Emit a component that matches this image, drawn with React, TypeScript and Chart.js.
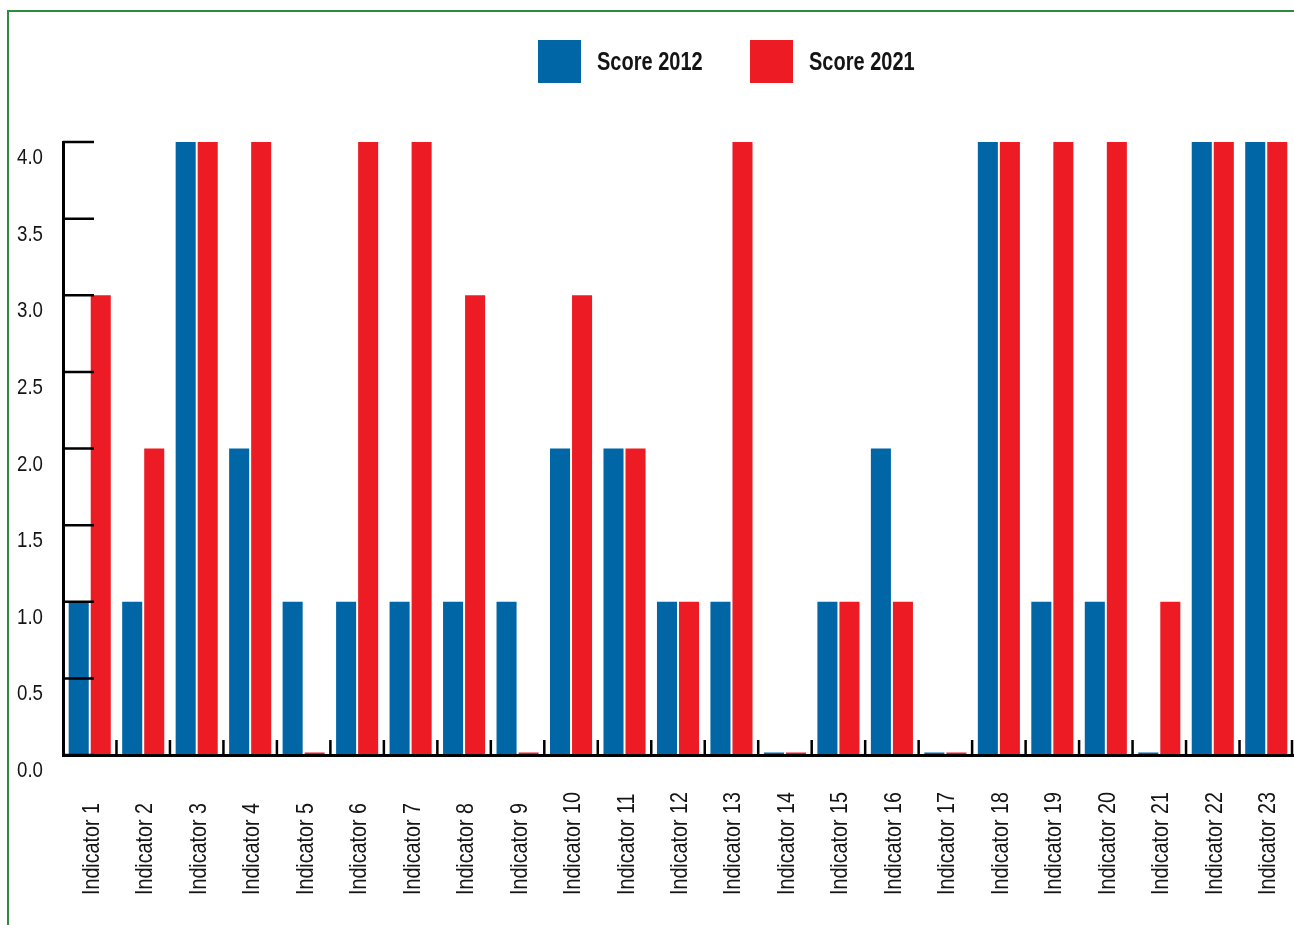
import React, { useEffect, useRef } from "react";
import { Chart, registerables } from "chart.js";

Chart.register(...registerables);

const categories = [
  "Indicator 1", "Indicator 2", "Indicator 3", "Indicator 4", "Indicator 5",
  "Indicator 6", "Indicator 7", "Indicator 8", "Indicator 9", "Indicator 10",
  "Indicator 11", "Indicator 12", "Indicator 13", "Indicator 14", "Indicator 15",
  "Indicator 16", "Indicator 17", "Indicator 18", "Indicator 19", "Indicator 20",
  "Indicator 21", "Indicator 22", "Indicator 23",
];
const score2012 = [1, 1, 4, 2, 1, 1, 1, 1, 1, 2, 2, 1, 1, 0, 1, 2, 0, 4, 1, 1, 0, 4, 4];
const score2021 = [3, 2, 4, 4, 0, 4, 4, 3, 0, 3, 2, 1, 4, 0, 1, 1, 0, 4, 4, 4, 1, 4, 4];
const seriesNames = ["Score 2012", "Score 2021"];
const seriesColors = ["#0066A6", "#ED1C24"];
const yMin = 0;
const yMax = 4;
const yStep = 0.5;

const FONT = "'Liberation Sans', Arial, sans-serif";
const TEXT_COLOR = "#141414";

const axisPlugin = {
  id: "inwardAxis",
  afterDatasetsDraw(chart: any) {
    const { ctx, chartArea, scales } = chart;
    const y = scales.y;
    const x = scales.x;
    ctx.save();
    ctx.strokeStyle = "#000";
    ctx.lineWidth = 2.5;
    ctx.beginPath();
    y.ticks.forEach((t: any) => {
      const py = y.getPixelForValue(t.value);
      ctx.moveTo(chartArea.left, py);
      ctx.lineTo(chartArea.left + 31, py);
    });
    const n = categories.length;
    for (let i = 1; i <= n; i++) {
      const px =
        i < n
          ? (x.getPixelForValue(i - 1) + x.getPixelForValue(i)) / 2
          : chartArea.right - 1;
      ctx.moveTo(px, chartArea.bottom);
      ctx.lineTo(px, chartArea.bottom - 15);
    }
    ctx.stroke();
    ctx.restore();
  },
  afterDraw(chart: any) {
    const { ctx, chartArea, scales } = chart;
    const x = scales.x;
    const y = scales.y;
    ctx.save();
    ctx.fillStyle = TEXT_COLOR;
    // category labels (rotated, start-aligned at the bottom)
    ctx.font = `24px ${FONT}`;
    ctx.textAlign = "left";
    ctx.textBaseline = "alphabetic";
    categories.forEach((c, i) => {
      const px = x.getPixelForValue(i);
      ctx.save();
      ctx.translate(px + 9, chartArea.bottom + 140);
      ctx.rotate(-Math.PI / 2);
      ctx.scale(0.82, 1);
      ctx.fillText(c, 0, 0);
      ctx.restore();
    });
    // value labels (sit just below each tick)
    ctx.font = `22px ${FONT}`;
    ctx.textAlign = "right";
    y.ticks.forEach((t: any) => {
      const py = y.getPixelForValue(t.value);
      ctx.save();
      ctx.translate(chartArea.left - 20, py + 22);
      ctx.scale(0.85, 1);
      ctx.fillText(Number(t.value).toFixed(1), 0, 0);
      ctx.restore();
    });
    ctx.restore();
  },
};

export default function App() {
  const ref = useRef<HTMLCanvasElement | null>(null);

  useEffect(() => {
    if (!ref.current) return;
    const chart = new Chart(ref.current, {
      type: "bar",
      data: {
        labels: categories,
        datasets: [
          {
            label: seriesNames[0],
            data: score2012,
            backgroundColor: seriesColors[0],
            categoryPercentage: 0.824,
            barPercentage: 0.91,
            minBarLength: 2.5,
          },
          {
            label: seriesNames[1],
            data: score2021,
            backgroundColor: seriesColors[1],
            categoryPercentage: 0.824,
            barPercentage: 0.91,
            minBarLength: 2.5,
          },
        ],
      },
      options: {
        responsive: false,
        animation: false,
        devicePixelRatio: 1,
        layout: { padding: { top: 142, right: 1, left: 0, bottom: 0 } },
        plugins: {
          legend: { display: false },
          tooltip: { enabled: false },
        },
        scales: {
          x: {
            grid: { display: false, drawTicks: false },
            border: { display: true, color: "#000", width: 3, z: 1 },
            ticks: { display: false },
            afterFit(scale: any) {
              scale.height = 170;
            },
          },
          y: {
            min: yMin,
            max: yMax,
            grid: { display: false, drawTicks: false },
            border: { display: true, color: "#000", width: 3, z: 1 },
            ticks: { stepSize: yStep, display: false },
            afterFit(scale: any) {
              scale.width = 63;
            },
          },
        },
      },
      plugins: [axisPlugin],
    });
    return () => chart.destroy();
  }, []);

  const legendItem = (i: number, left: number) => (
    <div
      key={i}
      style={{
        position: "absolute",
        left,
        top: 40,
        height: 43,
        display: "flex",
        alignItems: "center",
      }}
    >
      <div style={{ width: 43, height: 43, background: seriesColors[i] }} />
      <span
        style={{
          marginLeft: 16,
          font: `bold 25px ${FONT}`,
          lineHeight: "43px",
          color: TEXT_COLOR,
          whiteSpace: "nowrap",
          display: "inline-block",
          transform: "scaleX(0.8)",
          transformOrigin: "left center",
        }}
      >
        {seriesNames[i]}
      </span>
    </div>
  );

  return (
    <div
      style={{
        position: "absolute",
        left: 0,
        top: 0,
        width: 1294,
        height: 925,
        overflow: "hidden",
        background: "#fff",
      }}
    >
      <div
        style={{
          position: "absolute",
          left: 7,
          top: 10,
          width: 1400,
          height: 1000,
          borderLeft: "2px solid #2F8A3C",
          borderTop: "2px solid #2F8A3C",
        }}
      />
      <canvas
        ref={ref}
        width={1294}
        height={925}
        style={{ position: "absolute", left: 0, top: 0, width: 1294, height: 925 }}
      />
      {legendItem(0, 538)}
      {legendItem(1, 750)}
    </div>
  );
}
